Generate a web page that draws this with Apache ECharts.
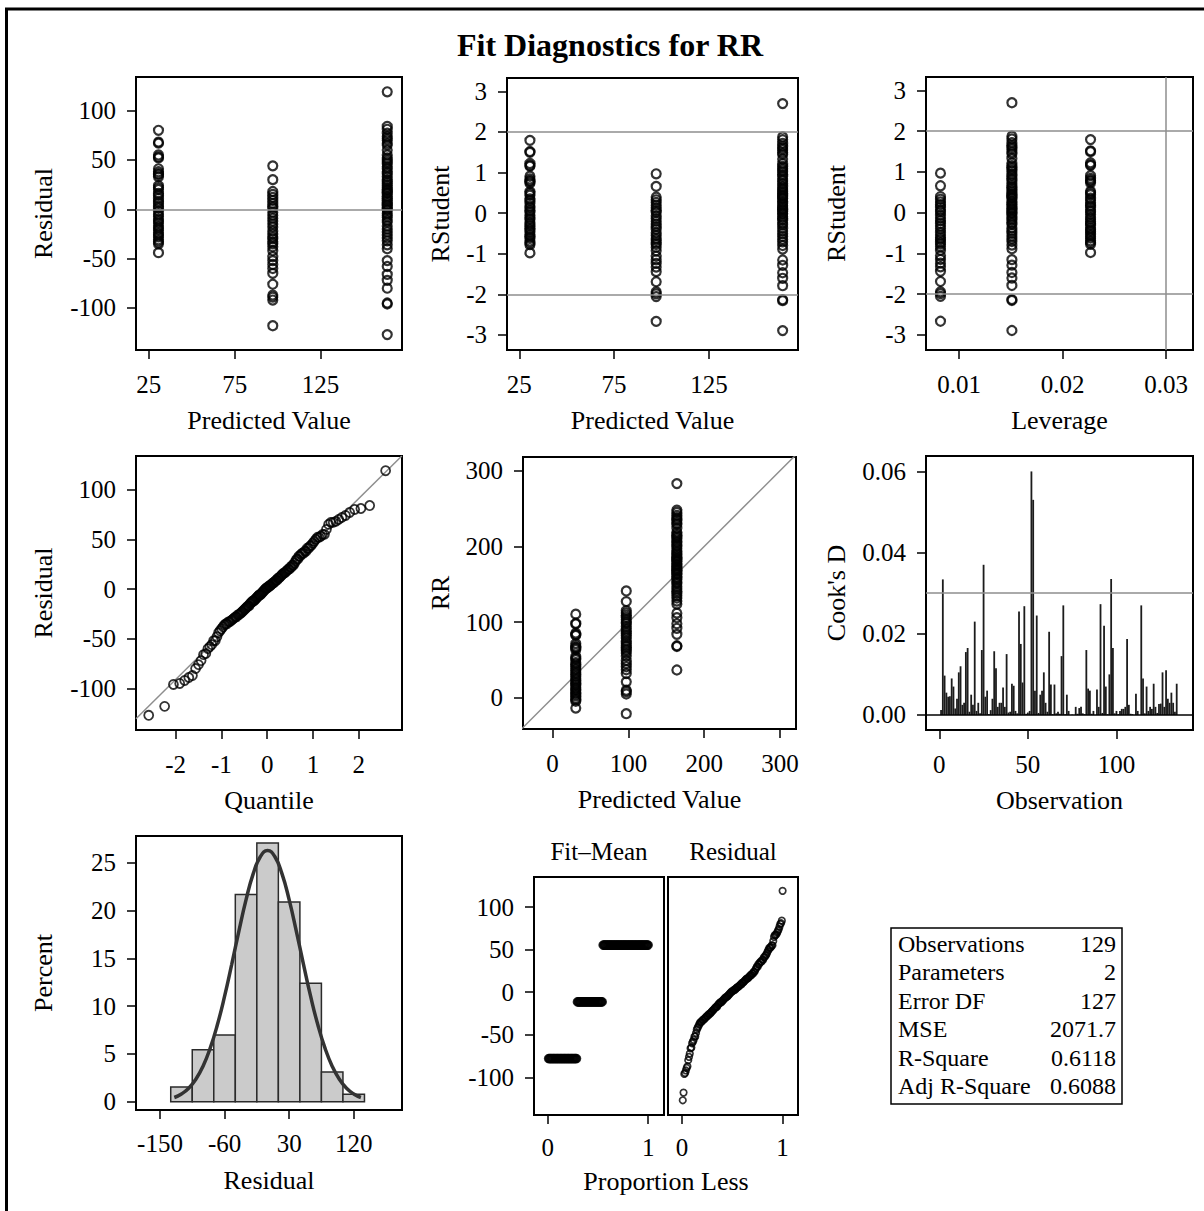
<!DOCTYPE html>
<html>
<head>
<meta charset="utf-8">
<title>Fit Diagnostics for RR</title>
<script src="https://cdn.jsdelivr.net/npm/echarts@6.0.0/dist/echarts.min.js"></script>
<style>
	html, body { margin: 0; padding: 0; background-color: #fff; }
	#fitDiagBox { width: 1204px; height: 1211px; }
</style>
</head>
<body>
<div id="fitDiagBox"></div>

<script>
	// 三组预测值 / 杠杆值
	var predLevels = [30.6, 97.2, 163.9];
	var leverageLevels = [0.0227, 0.0082, 0.0151];

	// 残差，按预测值分组
	var resGroup1 = [80, 68, 67, 55, 53, 52, 41, 38, 36, 35, 33, 24, 22, 20, 16, 14, 11, 8, 6, 3, 1, -2, -5, -7, -10, -12, -14, -17, -19, -21, -24, -26, -28, -31, -33, -35, -44];
	var resGroup2 = [44, 30, 18, 15, 12, 9, 6, 3, 1, -3, -6, -9, -12, -15, -18, -22, -25, -28, -30, -33, -35, -38, -42, -48, -52, -56, -60, -65, -76, -87, -89, -92, -118];
	var resGroup3 = [119, 84, 81, 77, 74, 72, 70, 67, 65, 60, 55, 52, 50, 48, 46, 43, 41, 38, 36, 33, 30, 28, 26, 24, 22, 20, 19, 17, 16, 13, 11, 9, 7, 5, 4, 2, 0, -1, -4, -6, -8, -11, -13, -17, -20, -23, -26, -29, -32, -36, -40, -52, -58, -66, -72, -80, -95, -96, -127];

	// Cook's D，按观测号 1..134（null = 缺失观测）
	var cookD = [
		0.0012, 0.0334, 0.0097, 0.0055, 0.0045, 0.0046, 0.0090, 0.0070, 0.0016, 0.0040,
		0.0105, 0.0120, 0.0025, 0.0030, 0.0155, 0.0165, 0.0008, 0.0050, 0.0025, 0.0230,
		0.0010, 0.0030, 0.0004, 0.0160, 0.0370, 0.0045, 0.0060, 0.0002, 0.0012, 0.0040,
		0.0157, 0.0115, 0.0020, 0.0030, 0.0030, 0.0068, 0.0020, 0.0150, 0.0006, 0.0008,
		0.0077, 0.0072, 0.0010, 0.0004, 0.0255, 0.0175, 0.0080, 0.0268, 0.0003, 0.0006,
		0.0010, 0.0600, 0.0530, 0.0060, 0.0245, 0.0005, 0.0050, 0.0060, 0.0105, 0.0030,
		0.0008, 0.0205, 0.0075, 0.0002, 0.0075, 0.0004, 0.0008, 0.0003, 0.0145, 0.0270,
		0.0002, 0.0050, 0.0010, null, 0.0001, null, 0.0020, 0.0003, 0.0017, 0.0020,
		0.0004, 0.0002, 0.0160, 0.0065, 0.0060, 0.0003, 0.0010, null, 0.0063, 0.0020,
		0.0273, 0.0005, 0.0220, 0.0070, 0.0002, 0.0100, 0.0335, 0.0165, 0.0004, 0.0010,
		0.0002, 0.0010, 0.0015, 0.0015, 0.0020, 0.0187, 0.0025, 0.0003, 0.0002, null,
		0.0052, 0.0010, null, 0.0270, 0.0090, 0.0004, 0.0070, 0.0010, 0.0020, 0.0015,
		0.0077, 0.0020, 0.0005, 0.0027, 0.0028, 0.0105, 0.0020, 0.0110, 0.0040, 0.0030,
		0.0055, 0.0030, 0.0008, 0.0077
	];

	// 直方图
	var histEdges = [-135, -105, -75, -45, -15, 15, 45, 75, 105, 135];
	var histPct = [1.55, 5.43, 6.98, 21.7, 27.1, 20.9, 12.4, 3.1, 0.78];
	var curveX = [-130, -120, -110, -100, -90, -80, -70, -60, -50, -40, -30, -20, -10, 0, 10, 20, 30, 40, 50, 60, 70, 80, 90, 100, 110, 120, 130];
	var curveY = [0.44, 0.81, 1.41, 2.35, 3.72, 5.61, 8.05, 11.02, 14.38, 17.87, 21.16, 23.88, 25.67, 26.3, 25.67, 23.88, 21.16, 17.87, 14.38, 11.02, 8.05, 5.61, 3.72, 2.35, 1.41, 0.81, 0.44];

	// 参考线
	var qqRefLine = [[-2.865, -130.4], [2.94, 133.8]];
	var diagRefLine = [[-41, -41], [321, 321]];
	var rstudRef = [-2, 2];
	var leverageRef = 0.031;
	var cookRef = 0.031;

	// 统计表
	var statNames = ['Observations', 'Parameters', 'Error DF', 'MSE', 'R-Square', 'Adj R-Square'];
	var statValues = ['129', '2', '127', '2071.7', '0.6118', '0.6088'];

	// 刻度
	var tickPred = [25, 75, 125];
	var tickRes = [-100, -50, 0, 50, 100];
	var tickRstud = [-3, -2, -1, 0, 1, 2, 3];
	var tickLev = [0.01, 0.02, 0.03];
	var tickQuant = [-2, -1, 0, 1, 2];
	var tickRR = [0, 100, 200, 300];
	var tickObs = [0, 50, 100];
	var tickCook = [0, 0.02, 0.04, 0.06];
	var tickHistX = [-150, -60, 30, 120];
	var tickPct = [0, 5, 10, 15, 20, 25];
	var tickProp = [0, 1];

	var FONT = '"Liberation Serif", "Times New Roman", serif';

	function normInv(p) {
		var a = [-39.69683028665376, 220.9460984245205, -275.9285104469687, 138.3577518672690, -30.66479806614716, 2.506628277459239];
		var b = [-54.47609879822406, 161.5858368580409, -155.6989798598866, 66.80131188771972, -13.28068155288572];
		var c = [-0.007784894002430293, -0.3223964580411365, -2.400758277161838, -2.549732539343734, 4.374664141464968, 2.938163982698783];
		var d = [0.007784695709041462, 0.3224671290700398, 2.445134137142996, 3.754408661907416];
		var q, r;
		if (p < 0.02425) {
			q = Math.sqrt(-2 * Math.log(p));
			return (((((c[0] * q + c[1]) * q + c[2]) * q + c[3]) * q + c[4]) * q + c[5]) / ((((d[0] * q + d[1]) * q + d[2]) * q + d[3]) * q + 1);
		}
		if (p > 1 - 0.02425) {
			q = Math.sqrt(-2 * Math.log(1 - p));
			return -(((((c[0] * q + c[1]) * q + c[2]) * q + c[3]) * q + c[4]) * q + c[5]) / ((((d[0] * q + d[1]) * q + d[2]) * q + d[3]) * q + 1);
		}
		q = p - 0.5; r = q * q;
		return (((((a[0] * r + a[1]) * r + a[2]) * r + a[3]) * r + a[4]) * r + a[5]) * q / (((((b[0] * r + b[1]) * r + b[2]) * r + b[3]) * r + b[4]) * r + 1);
	}

	// 组装观测
	var obs = [];
	[resGroup1, resGroup2, resGroup3].forEach(function (g, k) {
		g.forEach(function (r) {
			obs.push({ pred: predLevels[k], lev: leverageLevels[k], res: r });
		});
	});
	var nObs = parseFloat(statValues[0]);
	var nPar = parseFloat(statValues[1]);
	var mse = parseFloat(statValues[3]);
	var dfe = nObs - nPar;
	var meanPred = 0;
	obs.forEach(function (o) {
		var s2 = (dfe * mse - o.res * o.res / (1 - o.lev)) / (dfe - 1);
		o.rstud = o.res / Math.sqrt(s2 * (1 - o.lev));
		meanPred += o.pred / obs.length;
	});

	var resSorted = obs.map(function (o) { return o.res; }).sort(function (a, b) { return a - b; });
	var fitSorted = obs.map(function (o) { return o.pred - meanPred; }).sort(function (a, b) { return a - b; });

	var ptsResPred = obs.map(function (o) { return [o.pred, o.res]; });
	var ptsRstudPred = obs.map(function (o) { return [o.pred, o.rstud]; });
	var ptsRstudLev = obs.map(function (o) { return [o.lev, o.rstud]; });
	var ptsQQ = resSorted.map(function (r, i) { return [normInv((i + 1 - 0.375) / (nObs + 0.25)), r]; });
	var ptsRR = obs.map(function (o) { return [o.pred, o.pred + o.res]; });
	var barsCook = [];
	cookD.forEach(function (v, i) { if (v !== null) barsCook.push([i + 1, v]); });
	var histData = histPct.map(function (p, i) { return [histEdges[i], histEdges[i + 1], p]; });
	var curveData = curveX.map(function (x, i) { return [x, curveY[i]]; });
	var ptsFit = fitSorted.map(function (v, i) { return [(i + 1) / nObs, v]; });
	var ptsSpread = resSorted.map(function (v, i) { return [(i + 1) / nObs, v]; });

	var grids = [
		{ left: 136, top: 77, width: 266, height: 273 },
		{ left: 507, top: 78, width: 291, height: 272 },
		{ left: 926, top: 77, width: 267, height: 273 },
		{ left: 136, top: 456, width: 266, height: 274 },
		{ left: 523, top: 457, width: 273, height: 272 },
		{ left: 926, top: 456, width: 267, height: 274 },
		{ left: 136, top: 836, width: 266, height: 274 },
		{ left: 534, top: 877, width: 130, height: 238 },
		{ left: 668, top: 877, width: 130, height: 238 }
	].map(function (g) {
		g.show = true; g.borderColor = '#000'; g.borderWidth = 2; g.backgroundColor = 'transparent';
		return g;
	});

	function valAxis(gi, min, max, ticks, opt) {
		opt = opt || {};
		return {
			type: 'value', gridIndex: gi, min: min, max: max,
			name: opt.name || '', nameLocation: 'middle', nameGap: opt.nameGap || 0,
			nameTextStyle: { fontFamily: FONT, fontSize: 26, color: '#000' },
			axisLine: { show: false, onZero: false },
			axisTick: { show: !opt.hide, length: 9, customValues: ticks, lineStyle: { color: '#000', width: 1.5 } },
			axisLabel: {
				show: !opt.hide, customValues: ticks, margin: opt.margin || 20,
				fontFamily: FONT, fontSize: 25, color: '#000', formatter: opt.fmt
			},
			splitLine: { show: false }
		};
	}
	function fix2(v) { return v.toFixed(2); }

	var xAxes = [
		valAxis(0, 17.5, 172.5, tickPred, { name: 'Predicted Value', nameGap: 57, margin: 22 }),
		valAxis(1, 18.5, 172, tickPred, { name: 'Predicted Value', nameGap: 57, margin: 22 }),
		valAxis(2, 0.0068, 0.0326, tickLev, { name: 'Leverage', nameGap: 57, margin: 22, fmt: fix2 }),
		valAxis(3, -2.865, 2.945, tickQuant, { name: 'Quantile', nameGap: 57, margin: 22 }),
		valAxis(4, -39, 321, tickRR, { name: 'Predicted Value', nameGap: 57, margin: 22 }),
		valAxis(5, -7.5, 143.2, tickObs, { name: 'Observation', nameGap: 57, margin: 22 }),
		valAxis(6, -183.4, 187.3, tickHistX, { name: 'Residual', nameGap: 57, margin: 21 }),
		valAxis(7, -0.137, 1.157, tickProp, { margin: 20 }),
		valAxis(8, -0.139, 1.153, tickProp, { margin: 20 })
	];
	var yAxes = [
		valAxis(0, -142.6, 134, tickRes, { name: 'Residual', nameGap: 80 }),
		valAxis(1, -3.37, 3.33, tickRstud, { name: 'RStudent', nameGap: 54 }),
		valAxis(2, -3.37, 3.33, tickRstud, { name: 'RStudent', nameGap: 77 }),
		valAxis(3, -141.8, 133.8, tickRes, { name: 'Residual', nameGap: 80 }),
		valAxis(4, -41, 318, tickRR, { name: 'RR', nameGap: 70 }),
		valAxis(5, -0.0037, 0.0638, tickCook, { name: "Cook's D", nameGap: 77, fmt: fix2 }),
		valAxis(6, -0.87, 27.82, tickPct, { name: 'Percent', nameGap: 80 }),
		valAxis(7, -144.3, 135.3, tickRes, {}),
		valAxis(8, -144.3, 135.3, tickRes, { hide: true })
	];

	function circles(idx, data, size, bw) {
		return {
			type: 'scatter', xAxisIndex: idx, yAxisIndex: idx, data: data,
			symbol: 'circle', symbolSize: size, silent: true, z: 3,
			itemStyle: { color: 'rgba(0,0,0,0)', borderColor: '#000', borderWidth: bw }
		};
	}
	function refLines(list, color) {
		return {
			silent: true, symbol: 'none', label: { show: false },
			lineStyle: { color: color || '#8e8e8e', width: 1.5, type: 'solid' },
			data: list
		};
	}

	var s1 = circles(0, ptsResPred, 9, 2.2);
	s1.markLine = refLines([{ yAxis: 0 }]);
	var s2 = circles(1, ptsRstudPred, 9, 2.2);
	s2.markLine = refLines(rstudRef.map(function (v) { return { yAxis: v }; }));
	var s3 = circles(2, ptsRstudLev, 9, 2.2);
	s3.markLine = refLines(rstudRef.map(function (v) { return { yAxis: v }; }).concat([{ xAxis: leverageRef }]));

	var series = [
		s1, s2, s3,
		{
			type: 'line', xAxisIndex: 3, yAxisIndex: 3, data: qqRefLine, symbol: 'none', silent: true,
			lineStyle: { color: '#8e8e8e', width: 1.5 }, z: 2
		},
		circles(3, ptsQQ, 9, 1.8),
		{
			type: 'line', xAxisIndex: 4, yAxisIndex: 4, data: diagRefLine, symbol: 'none', silent: true,
			lineStyle: { color: '#8e8e8e', width: 1.5 }, z: 2
		},
		circles(4, ptsRR, 9, 2.2),
		{
			type: 'bar', xAxisIndex: 5, yAxisIndex: 5, data: barsCook, barWidth: 1.8, silent: true,
			itemStyle: { color: '#1c1c1c' },
			markLine: refLines([{ yAxis: 0, lineStyle: { color: '#000', width: 1.5 } }, { yAxis: cookRef }])
		},
		{
			type: 'custom', xAxisIndex: 6, yAxisIndex: 6, data: histData, silent: true,
			renderItem: function (params, api) {
				var p0 = api.coord([api.value(0), 0]);
				var p1 = api.coord([api.value(1), api.value(2)]);
				return {
					type: 'rect',
					shape: { x: p0[0], y: p1[1], width: p1[0] - p0[0], height: p0[1] - p1[1] },
					style: { fill: '#cbcbcb', stroke: '#2b2b2b', lineWidth: 1.5 }
				};
			}
		},
		{
			type: 'line', xAxisIndex: 6, yAxisIndex: 6, data: curveData, symbol: 'none', smooth: true, silent: true,
			lineStyle: { color: '#333', width: 3.5 }, z: 4
		},
		circles(7, ptsFit, 7.5, 2),
		circles(8, ptsSpread, 6.5, 1.7)
	];

	var graphic = [
		{ type: 'rect', silent: true, shape: { x: 6.5, y: 9, width: 1230, height: 1240 }, style: { fill: 'none', stroke: '#000', lineWidth: 3 } },
		{ type: 'text', silent: true, x: 610, y: 45, style: { text: 'Fit Diagnostics for RR', fontFamily: FONT, fontSize: 32, fontWeight: 'bold', fill: '#000', align: 'center', verticalAlign: 'middle' } },
		{ type: 'text', silent: true, x: 599, y: 851, style: { text: 'Fit\u2013Mean', fontFamily: FONT, fontSize: 25, fill: '#000', align: 'center', verticalAlign: 'middle' } },
		{ type: 'text', silent: true, x: 733, y: 851, style: { text: 'Residual', fontFamily: FONT, fontSize: 25, fill: '#000', align: 'center', verticalAlign: 'middle' } },
		{ type: 'text', silent: true, x: 666, y: 1181, style: { text: 'Proportion Less', fontFamily: FONT, fontSize: 26, fill: '#000', align: 'center', verticalAlign: 'middle' } },
		{ type: 'rect', silent: true, shape: { x: 891, y: 928, width: 231, height: 176 }, style: { fill: 'none', stroke: '#000', lineWidth: 1.5 } }
	];
	statNames.forEach(function (nm, i) {
		var y = 944 + i * 28.4;
		graphic.push({ type: 'text', silent: true, x: 898, y: y, style: { text: nm, fontFamily: FONT, fontSize: 24, fill: '#000', align: 'left', verticalAlign: 'middle' } });
		graphic.push({ type: 'text', silent: true, x: 1116, y: y, style: { text: statValues[i], fontFamily: FONT, fontSize: 24, fill: '#000', align: 'right', verticalAlign: 'middle' } });
	});

	var fitChart = echarts.init(document.getElementById('fitDiagBox'), null, { renderer: 'svg' });
	fitChart.setOption({
		animation: false,
		backgroundColor: '#fff',
		grid: grids,
		xAxis: xAxes,
		yAxis: yAxes,
		series: series,
		graphic: graphic
	});
</script>
</body>
</html>
